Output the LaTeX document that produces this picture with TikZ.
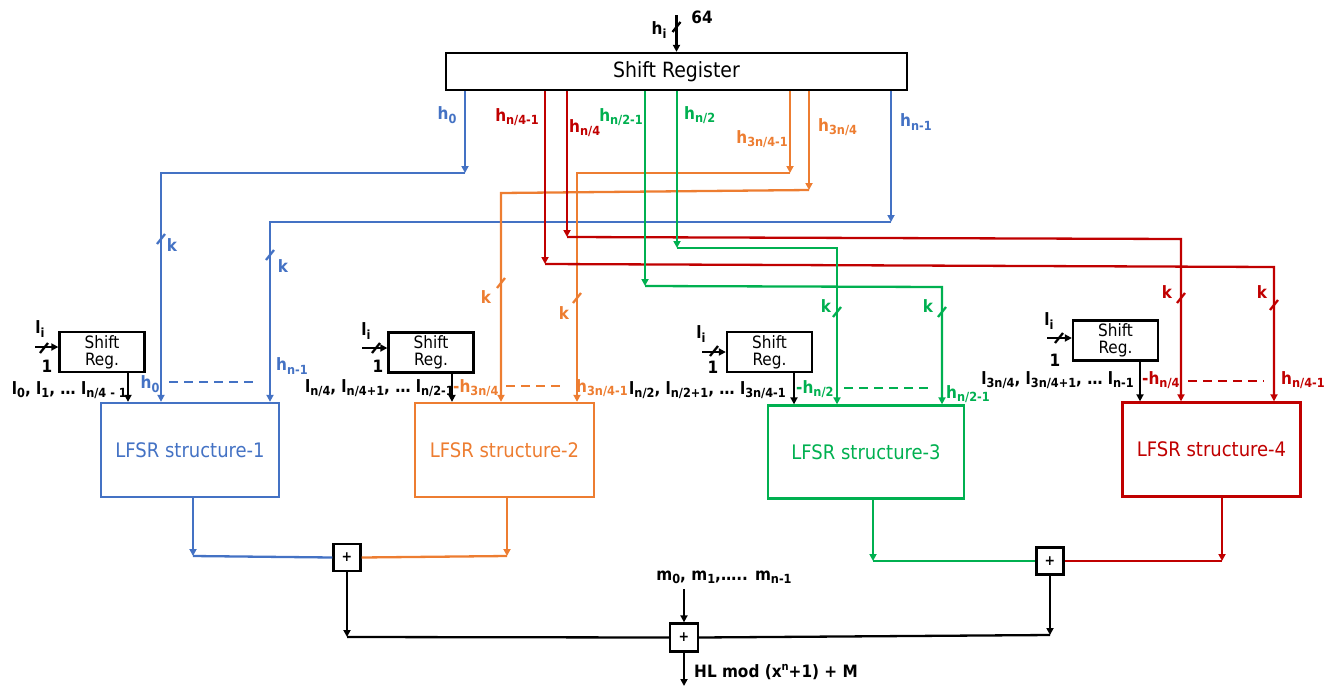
\documentclass[tikz,border=0pt]{standalone}
\usepackage{fontspec}
\setmainfont{DejaVu Sans Condensed}
\usetikzlibrary{arrows.meta}
\definecolor{cb}{HTML}{4472C4}
\definecolor{co}{HTML}{ED7D31}
\definecolor{cg}{HTML}{00B050}
\definecolor{cr}{HTML}{C00000}
\newcommand\sbs[1]{\raisebox{-0.35ex}{\scalebox{0.74}{#1}}}
\newcommand\sps[1]{\raisebox{0.8ex}{\scalebox{0.65}{#1}}}
\newcommand\fs[1]{\fontsize{#1}{#1}\selectfont}
\newcommand\tk[2]{\draw[ln,#1] (#2) ++(-4,5) -- ++(8,-10);}
\begin{document}
\begin{tikzpicture}[x=1pt,y=-1pt,
  ln/.style={line width=2.3pt},
  arr/.style={ln,-{Triangle[length=7pt,width=7pt]}},
  box/.style={draw,line width=2.3pt,inner sep=0pt},
  lbox/.style={box,font=\fs{20}},
  sbox/.style={box,font=\fs{17},align=center,minimum width=85,minimum height=40},
  xbox/.style={box,minimum size=27,font=\fs{14}\bfseries},
  lab/.style={inner sep=0pt,font=\fs{17}\bfseries},
  klab/.style={inner sep=0pt,font=\fs{17}\bfseries},
  dsh/.style={ln,dash pattern=on 9pt off 6pt}]
\useasboundingbox (0,0) rectangle (1334,686);

% main shift register
\node[box,minimum width=461,minimum height=37,font=\fs{21}] (SR) at (676.5,71.5) {Shift Register};
\coordinate (inp) at (676.5,15);
\draw[arr] (inp) -- (SR.north);
\tk{black}{676.5,27}
\node[lab] (t64) at (702,17) {64};
\node[lab] (thi) at (659,30) {h\sbs{i}};

% LFSR boxes
\node[lbox,cb,minimum width=178,minimum height=94] (L1) at (190,450) {LFSR structure-1};
\node[lbox,co,minimum width=179,minimum height=94] (L2) at (504.5,450) {LFSR structure-2};
\node[lbox,cg,minimum width=196,minimum height=93] (L3) at (866,452) {LFSR structure-3};
\node[lbox,cr,minimum width=178,minimum height=94] (L4) at (1211.5,449.5) {LFSR structure-4};

% small shift registers
\node[sbox] (S1) at (102,352) {Shift\\Reg.};
\node[sbox] (S2) at (431,352.5) {Shift\\Reg.};
\node[sbox] (S3) at (769.5,352) {Shift\\Reg.};
\node[sbox] (S4) at (1115.5,340.5) {Shift\\Reg.};

% xor boxes
\node[xbox] (X1) at (347,557.5) {+};
\node[xbox] (X2) at (1050,561) {+};
\node[xbox,minimum size=28] (X3) at (684,637.5) {+};

% ---- blue feeds
\coordinate (b0) at (465,173); \coordinate (b0l) at (161,173);
\draw[arr,cb] (SR.south -| b0) -- (b0);
\draw[arr,cb] (b0) -- (b0l) -- (L1.north -| b0l);
\coordinate (bn) at (891,222); \coordinate (bnl) at (270,222);
\draw[arr,cb] (SR.south -| bn) -- (bn);
\draw[arr,cb] (bn) -- (bnl) -- (L1.north -| bnl);
\tk{cb}{161,239} \node[klab,cb] (kb1) at (172,245) {k};
\tk{cb}{270,255} \node[klab,cb] (kb2) at (283,266) {k};

% ---- orange feeds
\coordinate (o1) at (790,173); \coordinate (o1l) at (577,173);
\draw[arr,co] (SR.south -| o1) -- (o1);
\draw[arr,co] (o1) -- (o1l) -- (L2.north -| o1l);
\coordinate (o2) at (809,190); \coordinate (o2l) at (501,193);
\draw[arr,co] (SR.south -| o2) -- (o2);
\draw[arr,co] (o2) -- (o2l) -- (L2.north -| o2l);
\tk{co}{501,283} \node[klab,co] (ko1) at (486,297) {k};
\tk{co}{577,298} \node[klab,co] (ko2) at (564,313) {k};

% ---- red feeds
\coordinate (r1) at (545,264); \coordinate (r1r) at (1274,267);
\draw[arr,cr] (SR.south -| r1) -- (r1);
\draw[arr,cr] (r1) -- (r1r) -- (L4.north -| r1r);
\coordinate (r2) at (567,237); \coordinate (r2r) at (1181,239);
\draw[arr,cr] (SR.south -| r2) -- (r2);
\draw[arr,cr] (r2) -- (r2r) -- (L4.north -| r2r);
\tk{cr}{1181,298} \node[klab,cr] (kr1) at (1167,292) {k};
\tk{cr}{1274,305} \node[klab,cr] (kr2) at (1262,292) {k};

% ---- green feeds
\coordinate (g1) at (645,286); \coordinate (g1r) at (942,287);
\draw[arr,cg] (SR.south -| g1) -- (g1);
\draw[arr,cg] (g1) -- (g1r) -- (L3.north -| g1r);
\coordinate (g2) at (677,248); \coordinate (g2r) at (837,248);
\draw[arr,cg] (SR.south -| g2) -- (g2);
\draw[arr,cg] (g2) -- (g2r) -- (L3.north -| g2r);
\tk{cg}{837,312} \node[klab,cg] (kg1) at (826,306) {k};
\tk{cg}{942,312} \node[klab,cg] (kg2) at (928,306) {k};

% top labels
\node[lab,cb] (th0) at (447,115) {h\sbs{0}};
\node[lab,cr,anchor=east] (th1) at (539,117) {h\sbs{n/4-1}};
\node[lab,cr,anchor=west] (th2) at (569,128) {h\sbs{n/4}};
\node[lab,cg,anchor=east] (th3) at (643,117) {h\sbs{n/2-1}};
\node[lab,cg,anchor=west] (th4) at (684,115) {h\sbs{n/2}};
\node[lab,co,anchor=east] (th5) at (788,139) {h\sbs{3n/4-1}};
\node[lab,co,anchor=west] (th6) at (818,127) {h\sbs{3n/4}};
\node[lab,cb,anchor=west] (th7) at (900,122) {h\sbs{n-1}};

% small shift register inputs
\coordinate (i1) at (35,347); \draw[arr] (i1) -- (S1.west |- i1); \tk{black}{44,348}
\node[lab] (li1) at (40,329) {l\sbs{i}}; \node[lab] (one1) at (47,366) {1};
\coordinate (i2) at (362,348); \draw[arr] (i2) -- (S2.west |- i2); \tk{black}{376,348}
\node[lab] (li2) at (366,331) {l\sbs{i}}; \node[lab] (one2) at (378,366) {1};
\coordinate (i3) at (702,352); \draw[arr] (i3) -- (S3.west |- i3); \tk{black}{714,351}
\node[lab] (li3) at (701,334) {l\sbs{i}}; \node[lab] (one3) at (713,367) {1};
\coordinate (i4) at (1047,338); \draw[arr] (i4) -- (S4.west |- i4); \tk{black}{1059,338}
\node[lab] (li4) at (1049,321) {l\sbs{i}}; \node[lab] (one4) at (1055,360) {1};

% small shift register outputs
\coordinate (s1o) at (128,0); \draw[arr] (S1.south -| s1o) -- (L1.north -| s1o);
\coordinate (s2o) at (452,0); \draw[arr] (S2.south -| s2o) -- (L2.north -| s2o);
\coordinate (s3o) at (794,0); \draw[arr] (S3.south -| s3o) -- (L3.north -| s3o);
\coordinate (s4o) at (1140,0); \draw[arr] (S4.south -| s4o) -- (L4.north -| s4o);

% input-row labels
\node[lab,anchor=east] (l1) at (127,390) {l\sbs{0}, l\sbs{1}, … l\sbs{n/4 - 1}};
\node[lab,cb] (h0b) at (150,384) {h\sbs{0}};
\coordinate (d1a) at (169,382); \coordinate (d1b) at (258,382);
\draw[dsh,cb] (d1a) -- (d1b);
\node[lab,cb] (hn1b) at (292,366) {h\sbs{n-1}};

\node[lab,anchor=east] (l2) at (454,388) {l\sbs{n/4}, l\sbs{n/4+1}, … l\sbs{n/2-1}};
\node[lab,co,anchor=west] (h2a) at (453,388) {-h\sbs{3n/4}};
\coordinate (d2a) at (506,386); \coordinate (d2b) at (564,386);
\draw[dsh,co] (d2a) -- (d2b);
\node[lab,co,anchor=west] (h2b) at (576,388) {h\sbs{3n/4-1}};

\node[lab,anchor=east] (l3) at (786,390) {l\sbs{n/2}, l\sbs{n/2+1}, … l\sbs{3n/4-1}};
\node[lab,cg,anchor=west] (h3a) at (796,389) {-h\sbs{n/2}};
\coordinate (d3a) at (844,388); \coordinate (d3b) at (930,388);
\draw[dsh,cg] (d3a) -- (d3b);
\node[lab,cg,anchor=west] (h3b) at (946,394) {h\sbs{n/2-1}};

\node[lab,anchor=east] (l4) at (1134,380) {l\sbs{3n/4}, l\sbs{3n/4+1}, … l\sbs{n-1}};
\node[lab,cr,anchor=west] (h4a) at (1142,380) {-h\sbs{n/4}};
\coordinate (d4a) at (1188,381); \coordinate (d4b) at (1264,381);
\draw[dsh,cr] (d4a) -- (d4b);
\node[lab,cr,anchor=west] (h4b) at (1281,380) {h\sbs{n/4-1}};

% bottom connections
\coordinate (c1) at (193,556); \draw[arr,cb] (L1.south -| c1) -- (c1); \draw[ln,cb] (c1) -- (X1.west);
\coordinate (c2) at (507,556); \draw[arr,co] (L2.south -| c2) -- (c2); \draw[ln,co] (c2) -- (X1.east);
\coordinate (c3) at (873,561); \draw[arr,cg] (L3.south -| c3) -- (c3); \draw[ln,cg] (c3) -- (X2.west);
\coordinate (c4) at (1222,561); \draw[arr,cr] (L4.south -| c4) -- (c4); \draw[ln,cr] (c4) -- (X2.east);
\coordinate (c5) at (347,637); \draw[arr] (X1.south) -- (c5); \draw[ln] (c5) -- (X3.west);
\coordinate (c6) at (1050,635); \draw[arr] (X2.south) -- (c6); \draw[ln] (c6) -- (X3.east);
\node[lab] (mlab) at (724,577) {m\sbs{0}, m\sbs{1},….. m\sbs{n-1}};
\coordinate (mi) at (684,589); \draw[arr] (mi) -- (X3.north);
\coordinate (out) at (684,686); \draw[arr] (X3.south) -- (out);
\node[lab,anchor=west] (hl) at (694,672) {HL mod (x\sps{n}+1) + M};
\end{tikzpicture}
\end{document}
